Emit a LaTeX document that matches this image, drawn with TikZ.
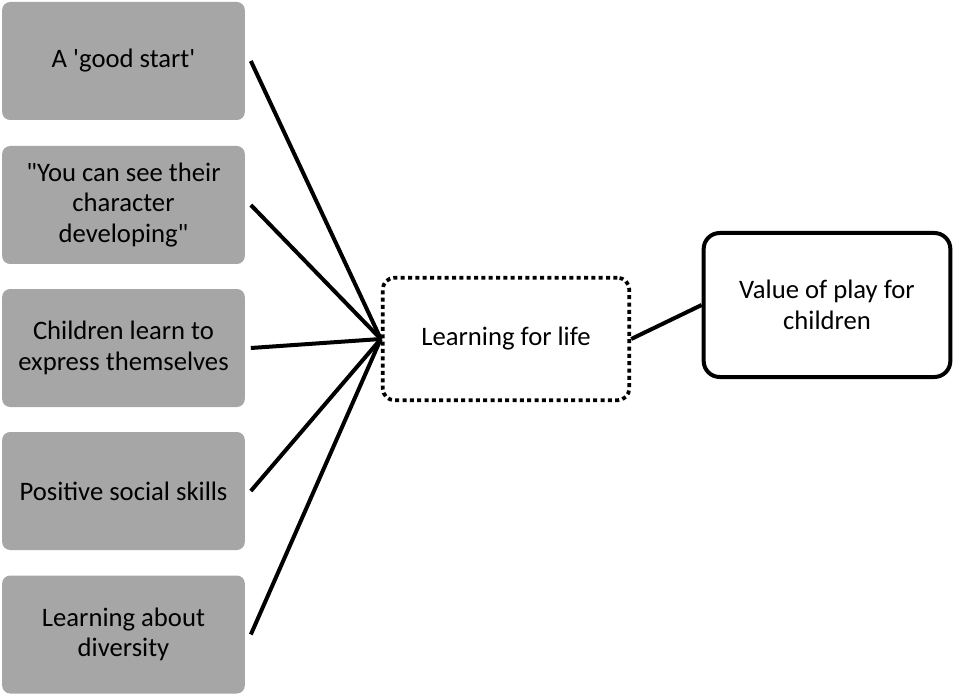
\documentclass[tikz,border=0pt]{standalone}
\usepackage{fontspec}
\setmainfont{Carlito}
\definecolor{themegray}{HTML}{A6A6A6}
\begin{document}
\begin{tikzpicture}[x=0.75pt, y=-0.75pt,
	theme/.style={rectangle, rounded corners=6pt, fill=themegray, minimum width=182pt, minimum height=88.5pt, align=center, outer xsep=4.5pt},
	hub/.style={rectangle, rounded corners=9pt, draw=black, line width=2.8pt, dash pattern=on 3pt off 2.5pt, minimum width=185pt, minimum height=92pt, align=center},
	topic/.style={rectangle, rounded corners=12pt, draw=black, line width=3pt, minimum width=185pt, minimum height=108pt, align=center},
	link/.style={-, color=black, line width=3pt},
	font=\fontsize{20}{23}\selectfont]
	\useasboundingbox (0,0) rectangle (956,695);

	\node (start) [theme] at (123.5,61) {A \textquotesingle good start\textquotesingle};
	\node (character) [theme] at (123.5,205) {\textquotedbl You can see their\\character\\developing\textquotedbl};
	\node (express) [theme] at (123.5,348) {Children learn to\\express themselves};
	\node (social) [theme] at (123.5,491) {Positive social skills};
	\node (diversity) [theme] at (123.5,634.5) {Learning about\\diversity};

	\node (learning) [hub] at (506,339) {Learning for life};
	\node (value) [topic] at (827,305) {Value of play for\\children};

	\draw[link] (start.east) -- (learning.west);
	\draw[link] (character.east) -- (learning.west);
	\draw[link] (express.east) -- (learning.west);
	\draw[link] (social.east) -- (learning.west);
	\draw[link] (diversity.east) -- (learning.west);
	\draw[link] (learning.east) -- (value.west);

\end{tikzpicture}
\end{document}
